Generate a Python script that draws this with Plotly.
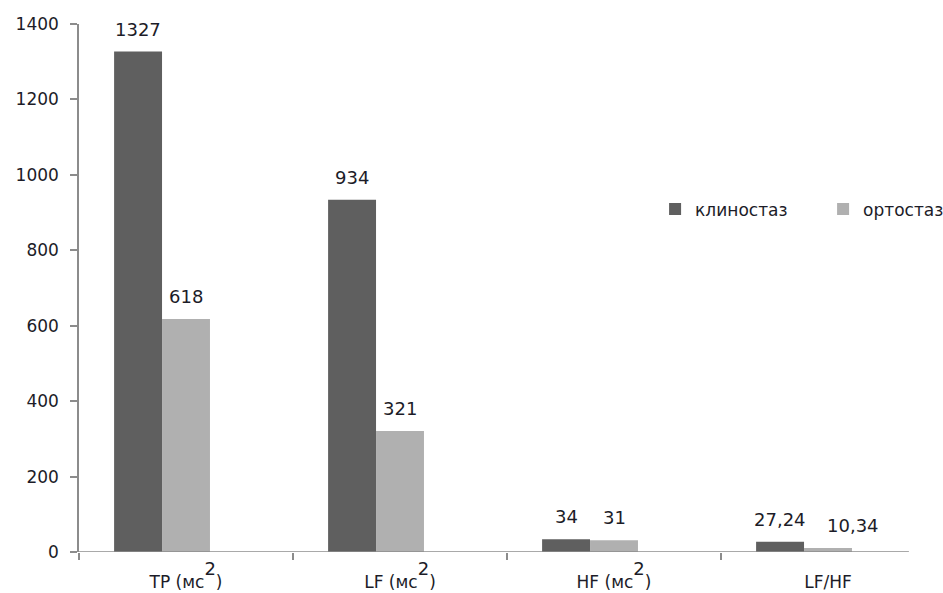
import plotly.graph_objects as go

SUP = "<span style='font-size:18px;baseline-shift:13px'>2</span>"
categories = ["TP (мс" + SUP + ")", "LF (мс" + SUP + ")", "HF (мс" + SUP + ")", "LF/HF"]
klino = [1327, 934, 34, 27.24]
orto = [618, 321, 31, 10.34]
klino_labels = ["1327", "934", "34", "27,24"]
orto_labels = ["618", "321", "31", "10,34"]
y_ticks = [0, 200, 400, 600, 800, 1000, 1200, 1400]

FONT = "DejaVu Sans"
TXT = "#1c1c28"
AX = "#8c8c8c"
DARK = "#5f5f5f"
LIGHT = "#b0b0b0"

W = 0.224
xs = list(range(len(categories)))

fig = go.Figure()
fig.add_trace(go.Bar(x=xs, y=klino, name="клиностаз", marker=dict(color=DARK, line=dict(width=0)),
                     width=W, offset=-1.5 * W))
fig.add_trace(go.Bar(x=xs, y=orto, name="ортостаз", marker=dict(color=LIGHT, line=dict(width=0)),
                     width=W, offset=-0.5 * W))

for i, (v, t) in enumerate(zip(klino, klino_labels)):
    fig.add_annotation(x=i - W, y=v, text=t, showarrow=False, yanchor="bottom", yshift=10,
                       font=dict(family=FONT, size=18, color=TXT))
for i, (v, t) in enumerate(zip(orto, orto_labels)):
    fig.add_annotation(x=i, y=v, text=t, showarrow=False, yanchor="bottom", yshift=10,
                       xshift=25 if i == 3 else 0,
                       font=dict(family=FONT, size=18, color=TXT))

# x axis baseline
fig.add_shape(type="line", xref="x", yref="y", x0=-0.5, x1=3.378, y0=0, y1=0,
              line=dict(color=AX, width=1.5))

fig.update_layout(
    width=943, height=593,
    margin=dict(l=79, r=8, t=24, b=41, autoexpand=False),
    plot_bgcolor="white", paper_bgcolor="white",
    barmode="overlay",
    font=dict(family=FONT, size=17, color=TXT),
    legend=dict(orientation="h", x=0.673, y=0.649, xanchor="left", yanchor="middle",
                font=dict(family=FONT, size=17, color=TXT), entrywidth=123, entrywidthmode="pixels",
                itemwidth=30, bgcolor="rgba(0,0,0,0)"),
    xaxis=dict(range=[-0.5, 3.5], tickvals=xs, ticktext=categories, ticks="",
               showline=False, showgrid=False, zeroline=False, ticklabelstandoff=18,
               tickfont=dict(family=FONT, size=17, color=TXT),
               minor=dict(tickvals=[-0.5, 0.5, 1.5, 2.5], ticks="outside", ticklen=7,
                          tickcolor=AX, tickwidth=1.5, showgrid=False)),
    yaxis=dict(range=[0, 1400], tickvals=y_ticks, ticks="outside", ticklen=7, tickcolor=AX,
               tickwidth=1.5, showline=True, linecolor=AX, linewidth=1.5, showgrid=False,
               zeroline=False, ticklabelstandoff=8,
               tickfont=dict(family=FONT, size=17, color=TXT)),
)

fig.write_html("out.html")
